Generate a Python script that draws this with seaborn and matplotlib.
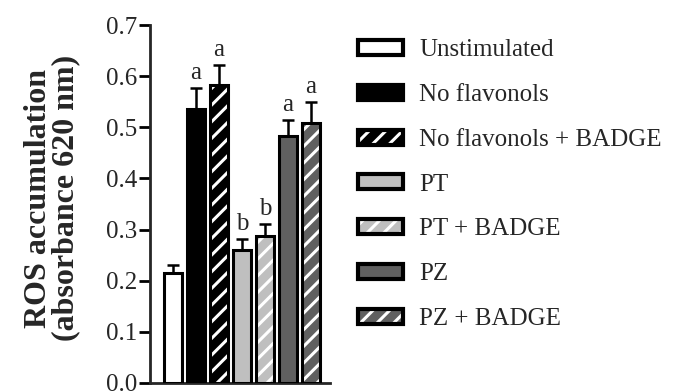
import matplotlib
matplotlib.use("Agg")
import matplotlib.pyplot as plt
from matplotlib.patches import Patch, Rectangle
from matplotlib.legend_handler import HandlerTuple
import seaborn as sns
import pandas as pd

groups = ["Unstimulated", "No flavonols", "No flavonols + BADGE",
          "PT", "PT + BADGE", "PZ", "PZ + BADGE"]
means = [0.215, 0.536, 0.582, 0.260, 0.288, 0.483, 0.508]
sem = [0.016, 0.041, 0.040, 0.022, 0.022, 0.032, 0.041]
letters = ["", "a", "a", "b", "b", "a", "a"]
fills = ["#ffffff", "#000000", "#000000", "#bfbfbf", "#bfbfbf", "#606060", "#606060"]
hatched = [False, False, True, False, True, False, True]

sns.set_theme(style="ticks")
plt.rcParams["font.family"] = ["Liberation Serif", "DejaVu Serif"]
plt.rcParams["hatch.linewidth"] = 2.2

df = pd.DataFrame({"group": groups, "value": means})

fig = plt.figure(figsize=(6.78, 3.92), dpi=100)
ax = fig.add_axes([0.221, 0.023, 0.266, 0.913])

sns.barplot(data=df, x="group", y="value", hue="group", palette=fills,
            order=groups, hue_order=groups, legend=False, errorbar=None,
            width=0.8, linewidth=0, ax=ax)

lw = 2.2
for p, h in zip(ax.patches, hatched):
    if h:
        p.set_hatch("//")
        p.set_edgecolor("white")
    # black outline drawn on top
    ax.add_patch(Rectangle(p.get_xy(), p.get_width(), p.get_height(),
                           fill=False, edgecolor="black", linewidth=lw, zorder=3))

xs = [p.get_x() + p.get_width() / 2 for p in ax.patches[:len(groups)]]
ax.errorbar(xs, means, yerr=[[0] * len(sem), sem], fmt="none", ecolor="black",
            elinewidth=1.8, capsize=4.5, capthick=1.8, zorder=2)

for x, m, s, t in zip(xs, means, sem, letters):
    if t:
        ax.text(x, m + s + 0.008, t, ha="center", va="bottom", fontsize=18)

ax.set_xlim(-1.0, 6.83)
ax.set_ylim(0, 0.7)
ax.set_yticks([0.0, 0.1, 0.2, 0.3, 0.4, 0.5, 0.6, 0.7])
ax.set_yticklabels([f"{v:.1f}" for v in ax.get_yticks()], fontsize=18)
ax.set_xticks([])
ax.set_xlabel("")
ax.set_ylabel("")
fig.text(52 / 678, 1 - 198 / 392, "ROS accumulation\n(absorbance 620 nm)",
         rotation=90, ha="center", va="center", fontsize=23,
         fontweight="bold", linespacing=0.95, multialignment="center")
for side in ["top", "right"]:
    ax.spines[side].set_visible(False)
for side in ["left", "bottom"]:
    ax.spines[side].set_linewidth(2.0)
ax.tick_params(axis="y", width=2.0, length=8, pad=1, color="black")

handles = []
for c, h in zip(fills, hatched):
    base = Patch(facecolor=c, edgecolor="white" if h else c, linewidth=0,
                 hatch="//" if h else None)
    edge = Patch(fill=False, edgecolor="black", linewidth=3.0)
    handles.append((base, edge))
fig.legend(handles, groups, loc="upper left", bbox_to_anchor=(0.514, 0.925),
           frameon=False, fontsize=18, handlelength=1.8, handleheight=0.55,
           labelspacing=0.91, handletextpad=0.62, borderaxespad=0,
           handler_map={tuple: HandlerTuple(ndivide=1, pad=0)})

fig.savefig("out.png", dpi=100)
